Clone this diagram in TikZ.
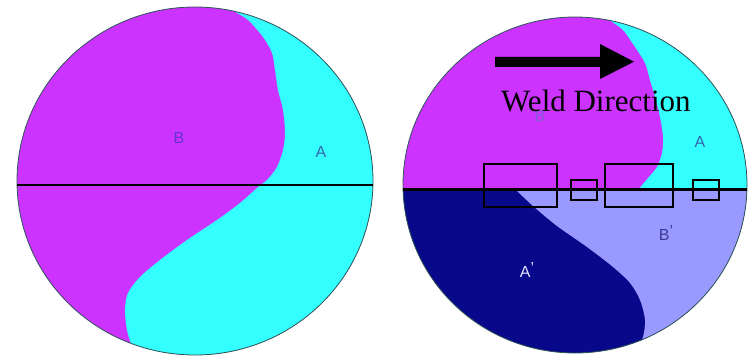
\documentclass[tikz,border=0pt]{standalone}
\usepackage{fontspec}
\setmainfont{Liberation Serif}
\newfontfamily\lblfont{Liberation Sans}
\definecolor{mag}{RGB}{204,51,255}
\definecolor{cyn}{RGB}{51,255,255}
\definecolor{navyc}{RGB}{8,8,138}
\definecolor{peri}{RGB}{153,153,255}
\definecolor{bcol}{RGB}{102,51,204}
\definecolor{acol}{RGB}{51,102,170}
\definecolor{bpcol}{RGB}{60,60,150}
\definecolor{apcol}{RGB}{225,225,255}
\definecolor{rimc}{RGB}{45,85,85}
\tikzset{
  lbl/.style={font=\lblfont\fontsize{16}{16}\selectfont, inner sep=0pt},
  rim/.style={draw=rimc, line width=0.8pt},
  cutline/.style={line width=2.8pt, black},
  zone/.style={draw=black, line width=2pt},
}
\begin{document}
\begin{tikzpicture}[x=1pt,y=-1pt]
\useasboundingbox (0,0) rectangle (754,358);
% ---------- left circle ----------
\begin{scope}
  \clip (195,181) ellipse [x radius=178, y radius=174];
  \fill[mag] (0,0) rectangle (380,358);
  \fill[cyn] plot[smooth] coordinates {(229,0) (233,10) (248,20) (263,37) (272,53) (275,70) (278,90) (283,110) (285,133) (283,150) (277,167) (267,180) (257,188) (240,203) (217,220) (187,240) (160,260) (140,277) (128,293) (125,310) (127,330) (132,347) (135,360)} -- (380,360) -- (380,0) -- cycle;
\end{scope}
\draw[rim] (195,181) ellipse [x radius=178, y radius=174];
\coordinate (l1) at (17,185);
\coordinate (l2) at (373,185);
\draw[cutline] (l1) -- (l2);
\node[lbl, text=bcol] (lB) at (179,138) {B};
\node[lbl, text=acol] (lA) at (321,152) {A};
% ---------- right circle ----------
\begin{scope}
  \clip (575,185) ellipse [x radius=172, y radius=168];
  \fill[mag] (400,0) rectangle (754,190);
  \fill[cyn] plot[smooth] coordinates {(605,10) (610,20) (623,30) (635,47) (645,63) (650,80) (655,97) (660,117) (663,137) (662,153) (657,167) (648,178) (638,190)} -- (760,190) -- (760,0) -- cycle;
  \fill[navyc] (400,190) rectangle (754,360);
  \fill[peri] plot[smooth] coordinates {(516,190) (533,206) (557,226) (587,247) (613,267) (630,283) (640,300) (645,320) (643,337) (637,350) (632,360)} -- (760,360) -- (760,190) -- cycle;
\end{scope}
\draw[rim] (575,185) ellipse [x radius=172, y radius=168];
\coordinate (r1) at (403,189.5);
\coordinate (r2) at (747,189.5);
\draw[cutline] (r1) -- (r2);
\node[lbl, text=bcol!80] (rB) at (540,116) {B};
\node[lbl, text=acol] (rA) at (700,142) {A};
\node[lbl, text=bpcol] (rBp) at (666,233) {B\raisebox{0.45ex}{’}};
\node[lbl, text=apcol] (rAp) at (527,270) {A\raisebox{0.45ex}{’}};
% weld direction arrow
\coordinate (as) at (495,62);
\fill[black] (as) ++(0,-5) -- (600,57) -- (600,44) -- (634,61.7) -- (600,79) -- (600,67) -- (495,67) -- cycle;
\node[anchor=base west, inner sep=0pt, font=\fontsize{31}{31}\selectfont] (wd) at (501,111.5) {Weld Direction};
% zones
\draw[zone] (484.3,164.3) rectangle (556.7,207.3);
\draw[zone] (570.7,180) rectangle (597.3,200);
\draw[zone] (604.7,164.3) rectangle (673.3,207.3);
\draw[zone] (692.7,180) rectangle (719.3,200);
\end{tikzpicture}
\end{document}
